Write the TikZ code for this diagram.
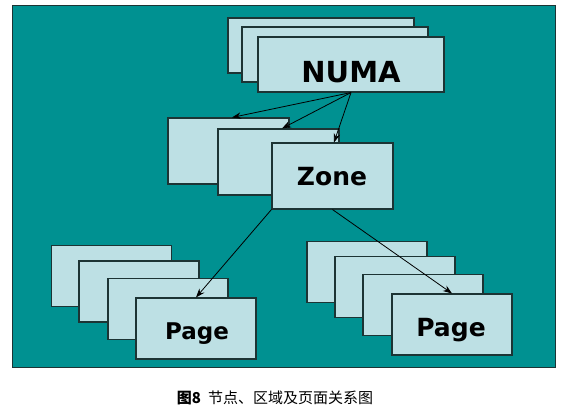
\documentclass[tikz,border=0pt]{standalone}
\usepackage{fontspec}
\setsansfont{DejaVu Sans}
\newfontfamily\cjkfont{Noto Sans CJK SC}
\usepackage{tikz}
\usetikzlibrary{arrows.meta}
\definecolor{bgteal}{HTML}{009191}
\definecolor{cardblue}{HTML}{BDE0E4}
\definecolor{edgedark}{HTML}{1C3434}

\begin{document}
\begin{tikzpicture}[>={Stealth[length=9pt, width=6.5pt]}, x=1pt, y=-1pt,
    card/.style={draw=edgedark, fill=cardblue, line width=1.1pt, inner sep=0pt},
    numacard/.style={card, minimum width=186pt, minimum height=55pt},
    zonecard/.style={card, minimum width=121pt, minimum height=66pt},
    pagecard/.style={card, minimum width=120pt, minimum height=61pt},
    lbl/.style={anchor=base, font=\sffamily\bfseries, inner sep=0pt},
    link/.style={->, line width=0.8pt}]
        \useasboundingbox (0,0) rectangle (563,414);
        \draw[fill=bgteal, draw=edgedark, line width=1pt] (12,6) rectangle (555,368);
        % NUMA stack
        \node[numacard] (n1) at (321, 45.5) {};
        \node[numacard] (n2) at (335, 54.5) {};
        \node[numacard] (n3) at (351, 64.5) {};
        \node[lbl, font=\sffamily\bfseries\fontsize{29}{29}\selectfont] (numa) at (351, 83) {NUMA};
        % Zone stack
        \node[zonecard] (z1) at (228.5, 151) {};
        \node[zonecard] (z2) at (278.5, 162) {};
        \node[zonecard] (z3) at (332.5, 176) {};
        \node[lbl, font=\sffamily\bfseries\fontsize{25}{25}\selectfont] (zone) at (332, 186) {Zone};
        % left Page stack
        \node[pagecard] (p1) at (111.5, 276) {};
        \node[pagecard] (p2) at (139, 291.5) {};
        \node[pagecard] (p3) at (168, 309) {};
        \node[pagecard] (p4) at (196, 328.5) {};
        \node[lbl, font=\sffamily\bfseries\fontsize{23}{23}\selectfont] (pagel) at (197, 340) {Page};
        % right Page stack
        \node[pagecard] (q1) at (367, 272) {};
        \node[pagecard] (q2) at (395, 287) {};
        \node[pagecard] (q3) at (423, 305) {};
        \node[pagecard] (q4) at (452, 324.5) {};
        \node[lbl, font=\sffamily\bfseries\fontsize{25}{25}\selectfont] (pager) at (451, 337) {Page};
        \draw[link] (n3.south) -- ([xshift=3.5pt]z1.north);
        \draw[link] (n3.south) -- ([xshift=3.5pt]z2.north);
        \draw[link] (n3.south) -- ([xshift=1.5pt]z3.north);
        \draw[link] (z3.south west) -- (p4.north);
        \draw[link] (z3.south) -- (q4.north);
        \node[anchor=base, inner sep=0pt, font=\cjkfont\fontsize{15}{15}\selectfont] (caption) at (275, 404) {{\bfseries 图8}\hspace{7pt}节点、区域及页面关系图};
      \end{tikzpicture}
\end{document}
